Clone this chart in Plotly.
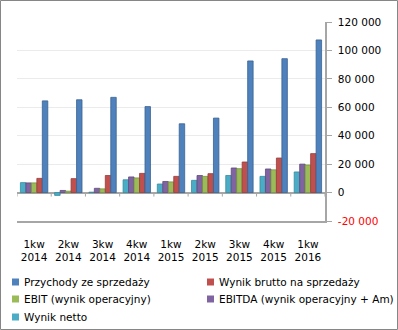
import plotly.graph_objects as go

categories = ["1kw<br>2014", "2kw<br>2014", "3kw<br>2014", "4kw<br>2014", "1kw<br>2015",
              "2kw<br>2015", "3kw<br>2015", "4kw<br>2015", "1kw<br>2016"]

przychody = [64500, 65300, 67000, 60500, 48400, 52400, 92600, 94200, 107400]
brutto = [10000, 9800, 12000, 13500, 11400, 13300, 21500, 24300, 27400]
ebit = [6800, 1000, 2600, 10300, 7500, 11400, 16800, 16000, 19400]
ebitda = [6800, 1500, 3000, 11000, 7800, 12000, 17300, 16600, 20000]
netto = [7000, -2000, 300, 9000, 6000, 8600, 12000, 11400, 14500]

tick_vals = [-20000, 0, 20000, 40000, 60000, 80000, 100000, 120000]

names = ["Przychody ze sprzedaży", "Wynik brutto na sprzedaży", "EBIT (wynik operacyjny)",
         "EBITDA (wynik operacyjny + Am)", "Wynik netto"]
colors = ["#4F81BD", "#C0504D", "#9BBB59", "#8064A2", "#4BACC6"]
edges = ["#3A6291", "#943C3A", "#76903F", "#5F4A7B", "#358A9E"]
series = [przychody, brutto, ebit, ebitda, netto]

FONT = "DejaVu Sans"
W, H = 398, 330
L, R, T, B = 17, 73, 22, 109

fig = go.Figure()
# bar order in each group: netto, EBITDA, EBIT, brutto, przychody
for i in [4, 3, 2, 1, 0]:
    fig.add_trace(go.Bar(
        x=categories, y=series[i], name=names[i],
        marker=dict(color=colors[i], line=dict(color=edges[i], width=0.8)),
        showlegend=False,
    ))

def fmt(v):
    s = f"{abs(v):,}".replace(",", " ")
    if v < 0:
        return f'<span style="color:#FF0000">-{s}</span>'
    return s

fig.update_layout(
    width=W, height=H,
    margin=dict(l=L, r=R, t=T, b=B),
    paper_bgcolor="white", plot_bgcolor="white",
    barmode="group", bargap=0.2, bargroupgap=0.0,
    font=dict(family=FONT, size=10.5, color="black"),
    xaxis=dict(
        type="category", showgrid=False, zeroline=False,
        showline=True, linecolor="#A6A6A6", linewidth=2,
        ticks="", ticklabelstandoff=12,
        tickfont=dict(family=FONT, size=10.5, color="black"),
        range=[-0.5, 8.5],
    ),
    yaxis=dict(
        side="right", range=[-20000, 120000],
        tickvals=tick_vals, ticktext=[fmt(v) for v in tick_vals],
        showgrid=True, gridcolor="#EBEBEB", gridwidth=1,
        zeroline=True, zerolinecolor="#A6A6A6", zerolinewidth=2,
        showline=True, linecolor="#A6A6A6", linewidth=1.5,
        ticks="outside", ticklen=5, tickcolor="#A6A6A6",
        ticklabelstandoff=4,
        tickfont=dict(family=FONT, size=10.5, color="black"),
    ),
)

# small tick marks at group boundaries along zero line
for k in range(10):
    fig.add_shape(type="line", xref="x", yref="y", x0=k - 0.5, x1=k - 0.5,
                  y0=0, y1=-2800, line=dict(color="#A6A6A6", width=1))

# outer border
pw, ph = W - L - R, H - T - B
def px2x(p):
    return (p - L) / pw
def py2y(p):
    return (H - B - p) / ph
fig.add_shape(type="rect", xref="paper", yref="paper",
              x0=px2x(0.5), x1=px2x(W - 0.5), y0=py2y(H - 0.5), y1=py2y(0.5),
              line=dict(color="#868686", width=1))

# legend (manual, two columns)
leg_pos = [(12, 282), (207, 282), (12, 299), (207, 299), (12, 317)]
for (lx, ly), name, col in zip(leg_pos, names, colors):
    fig.add_shape(type="rect", xref="paper", yref="paper",
                  x0=px2x(lx), x1=px2x(lx + 7), y0=py2y(ly + 3.5), y1=py2y(ly - 3.5),
                  fillcolor=col, line=dict(width=0))
    fig.add_annotation(xref="paper", yref="paper", x=px2x(lx + 9.5), y=py2y(ly),
                       text=name, showarrow=False, xanchor="left", yanchor="middle",
                       font=dict(family=FONT, size=10.5, color="black"))

fig.write_html("out.html")
